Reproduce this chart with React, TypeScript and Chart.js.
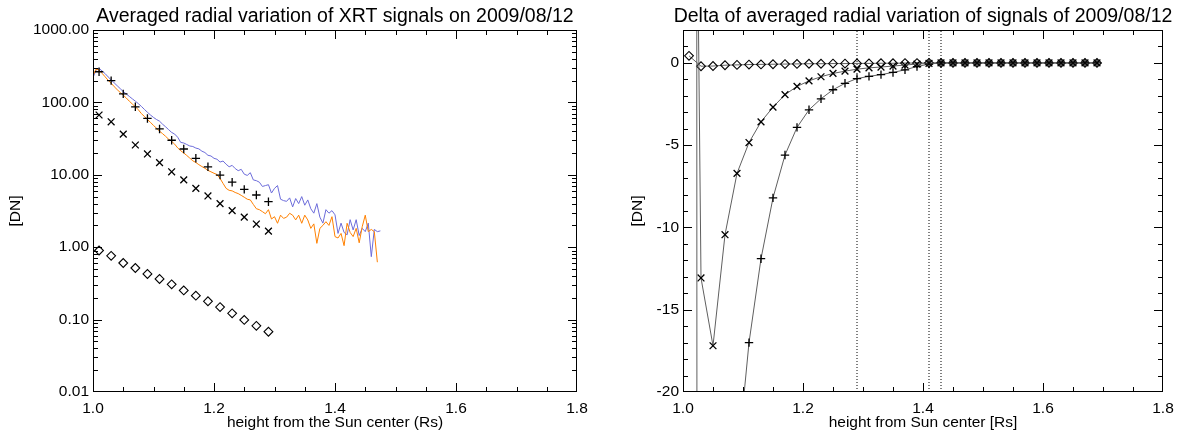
import React, { useEffect, useRef } from 'react';
import { Chart, registerables } from 'chart.js';

Chart.register(...registerables);

const FONT = "'Liberation Sans', Arial, Helvetica, sans-serif";

// ---------- Left panel: averaged radial variation (log scale) ----------
const leftTitle = 'Averaged radial variation of XRT signals on 2009/08/12';
const leftXLabel = 'height from the Sun center (Rs)';
const yLabel = '[DN]';
const leftXTicks = [1.0, 1.2, 1.4, 1.6, 1.8];
const leftYTicks = [0.01, 0.1, 1, 10, 100, 1000];

const lineR = [
  1.000, 1.005, 1.010, 1.015, 1.020, 1.025, 1.030, 1.035, 1.040, 1.045,
  1.050, 1.055, 1.060, 1.065, 1.070, 1.075, 1.080, 1.085, 1.090, 1.095,
  1.100, 1.105, 1.110, 1.115, 1.120, 1.125, 1.130, 1.135, 1.140, 1.145,
  1.150, 1.155, 1.160, 1.165, 1.170, 1.175, 1.180, 1.185, 1.190, 1.195,
  1.200, 1.205, 1.210, 1.215, 1.220, 1.225, 1.230, 1.235, 1.240, 1.245,
  1.250, 1.255, 1.260, 1.265, 1.270, 1.275, 1.280, 1.285, 1.290, 1.295,
  1.300, 1.305, 1.310, 1.315, 1.320, 1.325, 1.330, 1.335, 1.340, 1.345,
  1.350, 1.355, 1.360, 1.365, 1.370, 1.375, 1.380, 1.385, 1.390, 1.395,
  1.400, 1.405, 1.410, 1.415, 1.420, 1.425, 1.430, 1.435, 1.440, 1.445,
  1.450, 1.455, 1.460, 1.465, 1.470, 1.475,
];

const blueSignal = [
  220, 280, 295, 272, 250, 225, 205, 186, 170, 155,
  141, 131, 121, 112, 104, 96, 88, 80, 73, 67,
  62, 58, 55, 50, 46, 42, 38.5, 36.5, 33, 28,
  27.5, 26.2, 25, 24.6, 23.4, 22.8, 21.2, 20.3, 18.6, 18.2,
  16.9, 16.4, 15.0, 15.5, 14.0, 12.9, 13.5, 12.2, 11.4, 11.9,
  10.2, 9.8, 10.7, 8.5, 8.3, 7.9, 6.9, 7.1, 7.3, 5.6,
  6.5, 7.1, 4.6, 4.4, 4.3, 4.8, 3.6, 4.7, 4.0, 5.0,
  3.8, 4.5, 3.4, 2.95, 4.0, 2.6, 2.15, 3.3, 2.95, 3.2,
  2.8, 1.55, 2.15, 1.6, 1.48, 2.4, 1.73, 2.4, 1.45, 1.82,
  1.64, 2.15, 0.74, 1.76, 1.64, 1.68,
];

const orangeSignal = [
  235, 288, 280, 252, 226, 202, 184, 165, 150, 137,
  126, 115, 104, 95, 87, 79, 70, 64, 58, 53,
  48, 44, 40, 37, 34, 31, 29, 26.5, 23.5, 21.5,
  20, 18.5, 17, 15.6, 14.8, 13.8, 13.0, 12.3, 11.5, 11.0,
  10.5, 10.1, 8.9, 7.6, 6.5, 6.1, 6.0, 5.7, 5.5, 5.2,
  4.9, 4.6, 4.5, 3.9, 3.4, 3.3, 3.1, 2.9, 3.3, 2.45,
  2.64, 2.14, 2.77, 2.5, 2.6, 2.94, 2.77, 2.38, 2.77, 2.14,
  2.77, 2.38, 1.82, 2.1, 1.13, 1.82, 2.0, 2.25, 2.0, 2.64,
  1.4, 1.34, 1.55, 1.05, 2.14, 1.6, 1.4, 1.82, 1.15, 1.92,
  2.77, 1.64, 1.76, 1.64, 0.62,
];

const markR = [1.01, 1.03, 1.05, 1.07, 1.09, 1.11, 1.13, 1.15, 1.17, 1.19, 1.21, 1.23, 1.25, 1.27, 1.29];
const plusSignal = [265, 200, 131, 87, 60, 43, 30, 22.7, 16.9, 12.9, 9.9, 7.9, 6.3, 5.26, 4.25];
const crossSignal = [67, 54, 36.5, 25.8, 19.4, 14.7, 11.0, 8.5, 6.5, 5.1, 4.0, 3.2, 2.6, 2.09, 1.67];
const diamondSignal = [0.9, 0.76, 0.605, 0.516, 0.427, 0.364, 0.307, 0.253, 0.214, 0.179, 0.149, 0.122, 0.099, 0.082, 0.068];

// ---------- Right panel: delta of averaged radial variation ----------
const rightTitle = 'Delta of averaged radial variation of signals of 2009/08/12';
const rightXLabel = 'height from Sun center [Rs]';
const rightXTicks = [1.0, 1.2, 1.4, 1.6, 1.8];
const rightYTicks = [-20, -15, -10, -5, 0];

const deltaR = [
  1.01, 1.03, 1.05, 1.07, 1.09, 1.11, 1.13, 1.15, 1.17, 1.19,
  1.21, 1.23, 1.25, 1.27, 1.29, 1.31, 1.33, 1.35, 1.37, 1.39,
  1.41, 1.43, 1.45, 1.47, 1.49, 1.51, 1.53, 1.55, 1.57, 1.59,
  1.61, 1.63, 1.65, 1.67, 1.69,
];
const deltaPlus = [
  1300, -700, -52, -35, -24.6, -17.0, -11.9, -8.2, -5.6, -3.92,
  -2.85, -2.18, -1.63, -1.24, -0.95, -0.82, -0.71, -0.58, -0.42, -0.22,
  -0.07, 0, 0, 0, 0, 0, 0, 0, 0, 0,
  0, 0, 0, 0, 0,
];
const deltaCross = [
  60, -13.07, -17.19, -10.44, -6.71, -4.84, -3.58, -2.69, -1.93, -1.43,
  -1.09, -0.84, -0.64, -0.5, -0.38, -0.3, -0.25, -0.19, -0.13, -0.07,
  -0.03, 0, 0, 0, 0, 0, 0, 0, 0, 0,
  0, 0, 0, 0, 0,
];
const deltaDiamond = [
  0.43, -0.2, -0.19, -0.14, -0.12, -0.1, -0.09, -0.08, -0.07, -0.06,
  -0.05, -0.05, -0.04, -0.04, -0.03, -0.03, -0.02, -0.02, -0.01, -0.01,
  0, 0, 0, 0, 0, 0, 0, 0, 0, 0,
  0, 0, 0, 0, 0,
];
const dottedR = [1.29, 1.41, 1.43];

// ---------- helpers ----------
const pts = (xs: number[], ys: number[]) => ys.map((y, i) => ({ x: xs[i], y }));

function stepsBetween(a: number, b: number, step: number, skip: number[]) {
  const out: number[] = [];
  const n = Math.round((b - a) / step);
  for (let i = 0; i <= n; i++) {
    const v = +(a + i * step).toFixed(6);
    if (!skip.some((s) => Math.abs(s - v) < 1e-9)) out.push(v);
  }
  return out;
}

function logMinor(lo: number, hi: number) {
  const out: number[] = [];
  for (let d = lo; d < hi * 0.999; d *= 10) {
    for (let m = 2; m <= 9; m++) out.push(+(d * m).toPrecision(3));
  }
  return out;
}

const idlPlugin = {
  id: 'idlFrame',
  afterDatasetsDraw(chart: any, _args: any, opts: any) {
    const { ctx, chartArea } = chart;
    const { left, right, top, bottom } = chartArea;
    const xs = chart.scales.x;
    const ys = chart.scales.y;
    ctx.save();
    ctx.strokeStyle = '#000';
    ctx.lineWidth = 1;
    ctx.beginPath();
    ctx.rect(left + 0.5, top + 0.5, right - left - 1, bottom - top - 1);
    const clampX = (p: number) => Math.min(Math.max(Math.round(p) + 0.5, left + 0.5), right - 0.5);
    const clampY = (p: number) => Math.min(Math.max(Math.round(p) + 0.5, top + 0.5), bottom - 0.5);
    const xt = (v: number, len: number) => {
      const p = clampX(xs.getPixelForValue(v));
      ctx.moveTo(p, bottom);
      ctx.lineTo(p, bottom - len);
      ctx.moveTo(p, top);
      ctx.lineTo(p, top + len);
    };
    const yt = (v: number, len: number) => {
      const p = clampY(ys.getPixelForValue(v));
      ctx.moveTo(left, p);
      ctx.lineTo(left + len, p);
      ctx.moveTo(right, p);
      ctx.lineTo(right - len, p);
    };
    opts.xMajor.forEach((v: number) => xt(v, 9));
    opts.xMinor.forEach((v: number) => xt(v, 5));
    opts.yMajor.forEach((v: number) => yt(v, 9));
    opts.yMinor.forEach((v: number) => yt(v, 5));
    ctx.stroke();
    ctx.fillStyle = '#000';
    ctx.font = `19.5px ${FONT}`;
    ctx.textAlign = 'center';
    ctx.textBaseline = 'alphabetic';
    ctx.fillText(opts.title, (left + right) / 2, 22);
    ctx.restore();
  },
};

const tickFont = { size: 15.5, family: FONT };
const titleFont = { size: 15.5, family: FONT };

function baseScales(opts: {
  xTicks: number[];
  xLabel: string;
  yType: 'linear' | 'logarithmic';
  yMin: number;
  yMax: number;
  yTicks: number[];
  yWidth: number;
  yFmt: (v: number) => string;
}) {
  return {
    x: {
      type: 'linear',
      min: 1.0,
      max: 1.8,
      afterBuildTicks: (s: any) => {
        s.ticks = opts.xTicks.map((v) => ({ value: v }));
      },
      afterFit: (s: any) => {
        s.height = 39;
      },
      grid: { display: false, drawTicks: false, tickLength: 0 },
      border: { display: false },
      ticks: {
        font: tickFont,
        color: '#000',
        padding: 7,
        maxRotation: 0,
        autoSkip: false,
        callback: (v: any) => Number(v).toFixed(1),
      },
      title: {
        display: true,
        text: opts.xLabel,
        font: titleFont,
        color: '#000',
        padding: { top: 0, bottom: -1 },
      },
    },
    y: {
      type: opts.yType,
      min: opts.yMin,
      max: opts.yMax,
      afterBuildTicks: (s: any) => {
        s.ticks = opts.yTicks.map((v) => ({ value: v }));
      },
      afterFit: (s: any) => {
        s.width = opts.yWidth;
      },
      grid: { display: false, drawTicks: false, tickLength: 0 },
      border: { display: false },
      ticks: {
        font: tickFont,
        color: '#000',
        padding: 4,
        autoSkip: false,
        callback: (v: any) => opts.yFmt(Number(v)),
      },
      title: {
        display: true,
        text: yLabel,
        font: titleFont,
        color: '#000',
        padding: { top: 6, bottom: 0 },
      },
    },
  };
}

const commonOptions = {
  responsive: false,
  animation: false,
  devicePixelRatio: 1,
  events: [],
  plugins: {
    legend: { display: false },
    tooltip: { enabled: false },
    title: { display: false },
  },
};

const plusStyle = { pointStyle: 'cross', pointRadius: 4.2, pointBorderWidth: 1.3, pointBorderColor: '#000' };
const crossStyle = { pointStyle: 'crossRot', pointRadius: 4.8, pointBorderWidth: 1.3, pointBorderColor: '#000' };
const diamondStyle = {
  pointStyle: 'rectRot',
  pointRadius: 4.4,
  pointBorderWidth: 1.1,
  pointBorderColor: '#000',
  pointBackgroundColor: 'rgba(0,0,0,0)',
};

function leftConfig(): any {
  return {
    type: 'scatter',
    data: {
      datasets: [
        { data: pts(markR, plusSignal), ...plusStyle, borderColor: '#000', showLine: false },
        { data: pts(markR, crossSignal), ...crossStyle, borderColor: '#000', showLine: false },
        { data: pts(markR, diamondSignal), ...diamondStyle, borderColor: '#000', showLine: false },
        {
          data: pts(lineR, orangeSignal),
          showLine: true,
          pointRadius: 0,
          borderColor: '#FF8000',
          borderWidth: 1,
        },
        {
          data: pts(lineR, blueSignal),
          showLine: true,
          pointRadius: 0,
          borderColor: '#6C6CDA',
          borderWidth: 1,
        },
      ],
    },
    options: {
      ...commonOptions,
      layout: { padding: { left: 0, right: 23, top: 30, bottom: 0 } },
      scales: baseScales({
        xTicks: leftXTicks,
        xLabel: leftXLabel,
        yType: 'logarithmic',
        yMin: 0.01,
        yMax: 1000,
        yTicks: leftYTicks,
        yWidth: 93,
        yFmt: (v) => v.toFixed(2),
      }),
      plugins: {
        ...commonOptions.plugins,
        idlFrame: {
          title: leftTitle,
          xMajor: leftXTicks,
          xMinor: stepsBetween(1.0, 1.8, 0.05, leftXTicks),
          yMajor: leftYTicks,
          yMinor: logMinor(0.01, 1000),
        },
      },
    },
    plugins: [idlPlugin],
  };
}

function rightConfig(): any {
  const lineGray = '#5F5F5F';
  const dotted = dottedR.map((r) => ({
    data: [
      { x: r, y: -20 },
      { x: r, y: 2 },
    ],
    showLine: true,
    pointRadius: 0,
    borderColor: '#000',
    borderWidth: 1,
    borderDash: [1, 2],
  }));
  return {
    type: 'scatter',
    data: {
      datasets: [
        { data: pts(deltaR, deltaPlus), showLine: true, borderColor: lineGray, borderWidth: 1, ...plusStyle },
        { data: pts(deltaR, deltaCross), showLine: true, borderColor: lineGray, borderWidth: 1, ...crossStyle },
        { data: pts(deltaR, deltaDiamond), showLine: true, borderColor: lineGray, borderWidth: 1, ...diamondStyle },
        ...dotted,
      ],
    },
    options: {
      ...commonOptions,
      layout: { padding: { left: 22, right: 23, top: 30, bottom: 0 } },
      scales: baseScales({
        xTicks: rightXTicks,
        xLabel: rightXLabel,
        yType: 'linear',
        yMin: -20,
        yMax: 2,
        yTicks: rightYTicks,
        yWidth: 61,
        yFmt: (v) => String(Math.round(v)),
      }),
      plugins: {
        ...commonOptions.plugins,
        idlFrame: {
          title: rightTitle,
          xMajor: rightXTicks,
          xMinor: stepsBetween(1.0, 1.8, 0.05, rightXTicks),
          yMajor: rightYTicks,
          yMinor: stepsBetween(-20, 2, 1, rightYTicks),
        },
      },
    },
    plugins: [idlPlugin],
  };
}

export default function App() {
  const leftRef = useRef<HTMLCanvasElement>(null);
  const rightRef = useRef<HTMLCanvasElement>(null);

  useEffect(() => {
    Chart.defaults.font.family = FONT;
    Chart.defaults.color = '#000';
    const c1 = new Chart(leftRef.current as HTMLCanvasElement, leftConfig());
    const c2 = new Chart(rightRef.current as HTMLCanvasElement, rightConfig());
    return () => {
      c1.destroy();
      c2.destroy();
    };
  }, []);

  return (
    <div style={{ position: 'absolute', left: 0, top: 0, width: 1186, height: 431, background: '#fff', overflow: 'hidden' }}>
      <canvas
        ref={leftRef}
        width={600}
        height={431}
        style={{ position: 'absolute', left: 0, top: 0, width: 600, height: 431 }}
      />
      <canvas
        ref={rightRef}
        width={586}
        height={431}
        style={{ position: 'absolute', left: 600, top: 0, width: 586, height: 431 }}
      />
    </div>
  );
}
